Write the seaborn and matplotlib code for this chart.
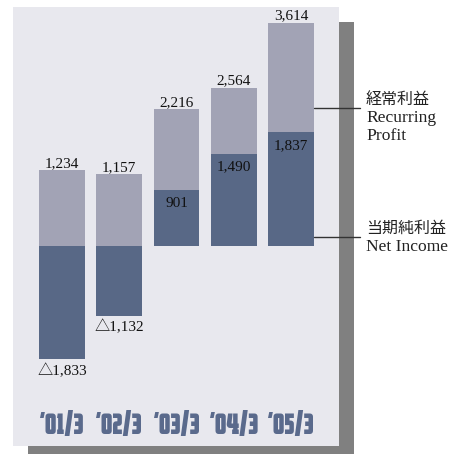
import matplotlib
matplotlib.use("Agg")
import matplotlib.pyplot as plt
from matplotlib import font_manager
from matplotlib.textpath import TextPath
from matplotlib.patches import Rectangle
from matplotlib.lines import Line2D
import seaborn as sns
import pandas as pd

# ---- data ----
years = ["’01/3", "’02/3", "’03/3", "’04/3", "’05/3"]
recurring_profit = [1234, 1157, 2216, 2564, 3614]
net_income = [-1833, -1132, 901, 1490, 1837]
legend_recurring = ["経常利益", "Recurring", "Profit"]
legend_net = ["当期純利益", "Net Income"]

LIGHT = "#a2a3b5"
DARK = "#586886"
PANEL = "#e8e8ee"
SHADOW = "#808080"
TICKC = "#5a6a8c"

sns.set_theme(style="white")
plt.rcParams["font.family"] = ["Liberation Serif", "Noto Sans CJK JP", "DejaVu Sans"]

TARGET_W, TARGET_H = 45.0, 20.0  # pixels of the year labels in the reference
TARGET_R = TARGET_W / TARGET_H


def is_bold(f):
    return str(f.weight) in ("bold", "700")


# pick the bold sans font whose proportions best match the reference year labels
best = None
for f in font_manager.fontManager.ttflist:
    fn = f.fname.lower()
    nm = f.name.lower()
    if not is_bold(f) or f.style != "normal":
        continue
    if "mono" in nm or "serif" in nm or "cjk" in nm or "math" in nm:
        continue
    if not fn.endswith((".ttf", ".otf")):
        continue
    try:
        fp = font_manager.FontProperties(fname=f.fname, size=100)
        w = TextPath((0, 0), years[0], prop=fp).get_extents().width
        h = TextPath((0, 0), "0", prop=fp).get_extents().height
    except Exception:
        continue
    if h <= 0 or w <= 0:
        continue
    score = abs(w / h - TARGET_R)
    if best is None or score < best[0]:
        best = (score, f.fname, w, h)

if best is not None:
    _, fname, w100, h100 = best
    px_per_pt = 100 / 72
    size = min(TARGET_W / (w100 / 100 * px_per_pt), TARGET_H / (h100 / 100 * px_per_pt))
    tick_fp = font_manager.FontProperties(fname=fname, size=size)
else:
    tick_fp = font_manager.FontProperties(family="DejaVu Sans", weight="bold", size=13)

W, H = 449, 454
fig = plt.figure(figsize=(W / 100, H / 100), dpi=100, facecolor="white")

# shadow
fig.patches.append(Rectangle((28 / W, 0), 326 / W, 432 / H, transform=fig.transFigure,
                             facecolor=SHADOW, edgecolor="none", zorder=0))

ax = fig.add_axes([13 / W, 8 / H, 326 / W, 439 / H])
ax.set_facecolor(PANEL)
ax.set_zorder(1)

df = pd.DataFrame({"year": years, "recurring": recurring_profit, "net": net_income})
sns.barplot(data=df, x="year", y="recurring", color=LIGHT, saturation=1, width=0.8, ax=ax,
            zorder=2, linewidth=0, edgecolor="none")
sns.barplot(data=df, x="year", y="net", color=DARK, saturation=1, width=0.8, ax=ax,
            zorder=3, linewidth=0, edgecolor="none")

ax.set_xlim(-0.856, 4.838)
ax.set_ylim(-3236, 3867)
for s in ax.spines.values():
    s.set_visible(False)
ax.set_yticks([])
ax.set_xlabel("")
ax.set_ylabel("")
ax.set_xticks(range(len(years)))
ax.set_xticklabels(years, fontproperties=tick_fp, color=TICKC)
for lbl in ax.get_xticklabels():
    lbl.set_va("baseline")
ax.tick_params(axis="x", length=0, pad=-8.5)


def fmt(v):
    s = f"{abs(v):,}"
    return ("△" + s) if v < 0 else s


for i, v in enumerate(recurring_profit):
    ax.annotate(fmt(v), (i, v), xytext=(0, 0), textcoords="offset points",
                ha="center", va="bottom", fontsize=11, color="#111111", zorder=5)
for i, v in enumerate(net_income):
    if v >= 0:
        ax.annotate(fmt(v), (i, v), xytext=(0, -4.5), textcoords="offset points",
                    ha="center", va="top", fontsize=11, color="#111111", zorder=5)
    else:
        ax.annotate(fmt(v), (i, v), xytext=(0, -3), textcoords="offset points",
                    ha="center", va="top", fontsize=11, color="#111111", zorder=5)

# legend leader lines and labels
for ypx in (108, 237):
    fig.add_artist(Line2D([314 / W, 360 / W], [(H - ypx) / H] * 2, transform=fig.transFigure,
                          color="#333333", lw=1, zorder=6))

fig.text(366 / W, (H - 100) / H, legend_recurring[0], fontsize=11.5, va="center", ha="left", color="#222222")
fig.text(366 / W, (H - 118) / H, legend_recurring[1], fontsize=12.6, va="center", ha="left", color="#222222")
fig.text(366 / W, (H - 136) / H, legend_recurring[2], fontsize=12.6, va="center", ha="left", color="#222222")
fig.text(366 / W, (H - 229) / H, legend_net[0], fontsize=11.5, va="center", ha="left", color="#222222")
fig.text(366 / W, (H - 247) / H, legend_net[1], fontsize=12.6, va="center", ha="left", color="#222222")

fig.savefig("out.png", dpi=100, facecolor="white")
